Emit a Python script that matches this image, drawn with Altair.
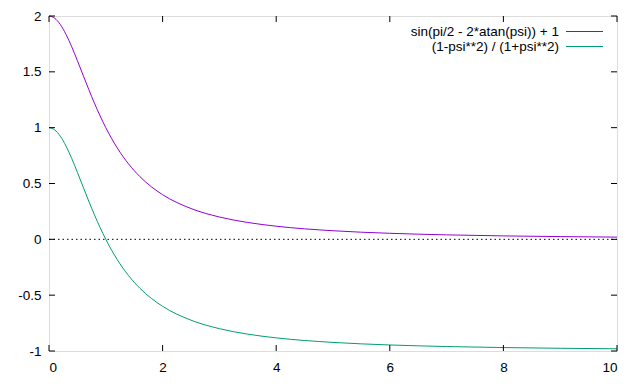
import altair as alt
import pandas as pd

psi = [0, 0.1, 0.2, 0.3, 0.4, 0.5, 0.6, 0.7, 0.8, 0.9, 1.0, 1.2, 1.4, 1.6, 1.8,
       2.0, 2.5, 3.0, 3.5, 4.0, 5.0, 6.0, 7.0, 8.0, 9.0, 10.0]
upper = [2.0, 1.9802, 1.9231, 1.8349, 1.7241, 1.6, 1.4706, 1.3423, 1.2195, 1.1050,
         1.0, 0.8197, 0.6757, 0.5618, 0.4717, 0.4, 0.2759, 0.2, 0.1509, 0.1176,
         0.0769, 0.0541, 0.04, 0.0308, 0.0244, 0.0198]
lower = [1.0, 0.9802, 0.9231, 0.8349, 0.7241, 0.6, 0.4706, 0.3423, 0.2195, 0.1050,
         0.0, -0.1803, -0.3243, -0.4382, -0.5283, -0.6, -0.7241, -0.8, -0.8491, -0.8824,
         -0.9231, -0.9459, -0.96, -0.9692, -0.9756, -0.9802]
names = ["sin(pi/2 - 2*atan(psi)) + 1", "(1-psi**2) / (1+psi**2)"]
colors = ["#9400d3", "#009e73"]
x_ticks = [0, 2, 4, 6, 8, 10]
y_ticks = [-1, -0.5, 0, 0.5, 1, 1.5, 2]

W, H = 568, 335
FONT = "Liberation Sans"
FS = 13.5

rows = []
for i, (n, vals) in enumerate(zip(names, [upper, lower])):
    for p, v in zip(psi, vals):
        rows.append({"psi": p, "val": v, "series": n, "order": i})
df = pd.DataFrame(rows)

xs = alt.Scale(domain=[0, 10], nice=False, zero=False)
ys = alt.Scale(domain=[-1, 2], nice=False, zero=False)
color = alt.Color("series:N", scale=alt.Scale(domain=names, range=colors), legend=None)

base_axes = alt.Chart(pd.DataFrame({"psi": [0], "val": [0]})).mark_point(opacity=0).encode(
    x=alt.X("psi:Q", scale=xs, title=None,
            axis=alt.Axis(values=x_ticks, labelExpr="'' + datum.value", tickSize=0, domain=False,
                          grid=False, labelPadding=9, labelFontSize=FS, labelFont=FONT,
                          labelColor="#000")),
    y=alt.Y("val:Q", scale=ys, title=None,
            axis=alt.Axis(values=y_ticks, labelExpr="'' + datum.value", tickSize=0, domain=False,
                          grid=False, labelPadding=8, labelFontSize=FS, labelFont=FONT,
                          labelColor="#000")),
)

zero = alt.Chart(pd.DataFrame({"v": [0]})).mark_rule(
    color="black", strokeWidth=1, strokeDash=[1.5, 3]
).encode(y=alt.Y("v:Q", scale=ys), x=alt.value(0), x2=alt.value(W))

lines = alt.Chart(df).mark_line(strokeWidth=1, interpolate="monotone").encode(
    x=alt.X("psi:Q", scale=xs), y=alt.Y("val:Q", scale=ys), color=color,
    detail="series:N",
)

xt = pd.DataFrame({"t": x_ticks})
yt = pd.DataFrame({"t": y_ticks})
tk = dict(color="black", strokeWidth=1)
ticks = [
    alt.Chart(xt).mark_rule(**tk).encode(x=alt.X("t:Q", scale=xs), y=alt.value(H), y2=alt.value(H - 6)),
    alt.Chart(xt).mark_rule(**tk).encode(x=alt.X("t:Q", scale=xs), y=alt.value(0), y2=alt.value(6)),
    alt.Chart(yt).mark_rule(**tk).encode(y=alt.Y("t:Q", scale=ys), x=alt.value(0), x2=alt.value(6)),
    alt.Chart(yt).mark_rule(**tk).encode(y=alt.Y("t:Q", scale=ys), x=alt.value(W), x2=alt.value(W - 6)),
]

leg = pd.DataFrame({"series": names, "ypix": [15.5, 30.5]})
leg_text = alt.Chart(leg).mark_text(align="right", baseline="middle", fontSize=FS, font=FONT,
                                    color="black").encode(
    text="series:N", x=alt.value(510), y=alt.Y("ypix:Q", scale=None))
leg_line = alt.Chart(leg).mark_rule(strokeWidth=1).encode(
    x=alt.value(517), x2=alt.value(554), y=alt.Y("ypix:Q", scale=None), color=color)

chart = alt.layer(base_axes, zero, lines, *ticks, leg_text, leg_line).properties(
    width=W, height=H,
    autosize=alt.AutoSizeParams(type="none"),
    padding={"left": 41, "top": 8, "right": 7, "bottom": 25},
).configure_view(stroke="black", strokeWidth=1).configure(background="white")

chart.save("out.html", embed_options={"renderer": "svg", "actions": False})
